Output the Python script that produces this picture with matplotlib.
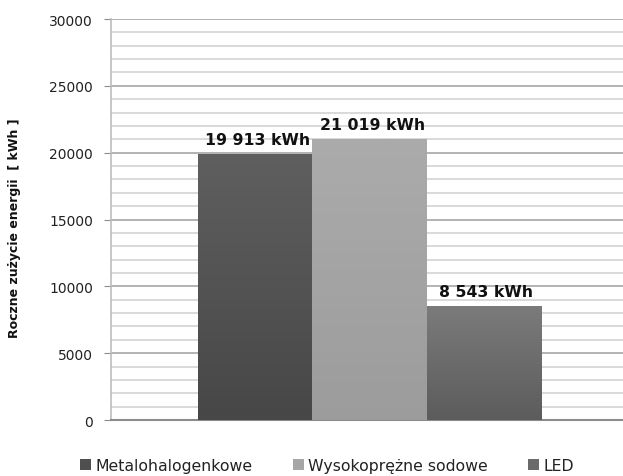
import numpy as np
import matplotlib
matplotlib.use("Agg")
import matplotlib.pyplot as plt
from matplotlib.colors import LinearSegmentedColormap
from matplotlib.patches import Patch

# Annual energy use per lamp technology
series = ["Metalohalogenkowe", "Wysokoprężne sodowe", "LED"]
values = [19913, 21019, 8543]
value_labels = ["19 913 kWh", "21 019 kWh", "8 543 kWh"]
ylabel = "Roczne zużycie energii  [ kWh ]"

# top / bottom shades of each bar
top_colors = ["#5f5f5f", "#ababab", "#7b7b7b"]
bottom_colors = ["#474747", "#9c9c9c", "#5c5c5c"]
legend_colors = ["#4f4f4f", "#a6a6a6", "#6a6a6a"]

fig = plt.figure(figsize=(6.23, 4.77), dpi=100)
ax = fig.add_axes([0.1782, 0.1174, 0.8218, 0.8406])

x = np.arange(len(values))
bars = ax.bar(x, values, width=1.0, color=top_colors, edgecolor="none", zorder=3)

# vertical gradient inside each bar
grad = np.linspace(0, 1, 256).reshape(-1, 1)
for b, c_top, c_bot in zip(bars, top_colors, bottom_colors):
    cmap = LinearSegmentedColormap.from_list("g", [c_bot, c_top])
    x0, w, h = b.get_x(), b.get_width(), b.get_height()
    im = ax.imshow(grad, cmap=cmap, aspect="auto", origin="lower",
                   extent=[x0, x0 + w, 0, h], zorder=3.5, interpolation="bilinear")
    im.set_clip_path(b)

for xi, v, lab in zip(x, values, value_labels):
    ax.annotate(lab, (xi, v), xytext=(2, 5), textcoords="offset points",
                ha="center", va="bottom", fontsize=11.3, fontweight="bold",
                color="#111111", zorder=5)

ax.set_xlim(-1.261, 3.219)
ax.set_ylim(0, 30000)
ax.set_yticks(np.arange(0, 30001, 5000))
ax.set_yticks(np.arange(0, 30001, 1000), minor=True)
ax.set_xticks([])
ax.tick_params(axis="y", which="major", length=5, color="#8c8c8c", labelsize=10,
               labelcolor="#222222", pad=8)
ax.tick_params(axis="y", which="minor", length=0)
ax.grid(True, axis="y", which="minor", color="#d0d0d0", linewidth=1.1, zorder=1)
ax.grid(True, axis="y", which="major", color="#a6a6a6", linewidth=1.2, zorder=1)

for s in ["top", "right"]:
    ax.spines[s].set_visible(False)
ax.spines["left"].set_color("#bdbdbd")
ax.spines["left"].set_linewidth(1.2)
ax.spines["bottom"].set_color("#8c8c8c")
ax.spines["bottom"].set_linewidth(1.5)

fig.text(0.024, 0.522, ylabel, rotation=90, ha="center", va="center",
         fontsize=9, fontweight="bold", color="#111111")

handles = [Patch(facecolor=c, edgecolor="none") for c in legend_colors]
fig.legend(handles, series, loc="center", bbox_to_anchor=(0.525, 0.023),
           ncol=3, frameon=False, fontsize=11.3, handlelength=0.7,
           handleheight=0.7, handletextpad=0.3, columnspacing=2.55,
           labelcolor="#222222")

fig.savefig("out.png", dpi=100)
